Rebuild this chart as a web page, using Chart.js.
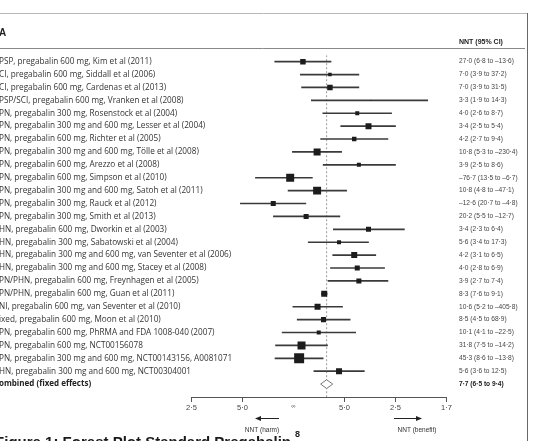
<!DOCTYPE html>
<html>
<head>
<meta charset="utf-8">
<script src="https://cdn.jsdelivr.net/npm/chart.js@4.4.1/dist/chart.umd.min.js"></script>
<style>
  html, body { margin: 0; padding: 0; background: #fff; }
  canvas { display: block; }
</style>
</head>
<body>
<canvas id="forestChart" width="534" height="441"></canvas>
<script>
// study labels (left edge of the original figure is cropped)
const studyLabels = [
    'PSP, pregabalin 600 mg, Kim et al (2011)',
    'CI, pregabalin 600 mg, Siddall et al (2006)',
    'CI, pregabalin 600 mg, Cardenas et al (2013)',
    'PSP/SCI, pregabalin 600 mg, Vranken et al (2008)',
    'PN, pregabalin 300 mg, Rosenstock et al (2004)',
    'PN, pregabalin 300 mg and 600 mg, Lesser et al (2004)',
    'PN, pregabalin 600 mg, Richter et al (2005)',
    'PN, pregabalin 300 mg and 600 mg, Tölle et al (2008)',
    'PN, pregabalin 600 mg, Arezzo et al (2008)',
    'PN, pregabalin 600 mg, Simpson et al (2010)',
    'PN, pregabalin 300 mg and 600 mg, Satoh et al (2011)',
    'PN, pregabalin 300 mg, Rauck et al (2012)',
    'PN, pregabalin 300 mg, Smith et al (2013)',
    'HN, pregabalin 600 mg, Dworkin et al (2003)',
    'HN, pregabalin 300 mg, Sabatowski et al (2004)',
    'HN, pregabalin 300 mg and 600 mg, van Seventer et al (2006)',
    'HN, pregabalin 300 mg and 600 mg, Stacey et al (2008)',
    'PN/PHN, pregabalin 600 mg, Freynhagen et al (2005)',
    'PN/PHN, pregabalin 600 mg, Guan et al (2011)',
    'NI, pregabalin 600 mg, van Seventer et al (2010)',
    'ixed, pregabalin 600 mg, Moon et al (2010)',
    'PN, pregabalin 600 mg, PhRMA and FDA 1008-040 (2007)',
    'PN, pregabalin 600 mg, NCT00156078',
    'PN, pregabalin 300 mg and 600 mg, NCT00143156, A0081071',
    'HN, pregabalin 300 mg and 600 mg, NCT00304001'
];

// number needed to treat, negative = harm
const nnt    = [27.0, 7.0, 7.0, 3.3, 4.0, 3.4, 4.2, 10.8, 3.9, -76.7, 10.8, -12.6, 20.2,
                3.4, 5.6, 4.2, 4.0, 3.9, 8.3, 10.6, 8.5, 10.1, 31.8, 45.3, 5.6];
const ciLow  = [6.8, 3.9, 3.9, 1.9, 2.6, 2.5, 2.7, 5.3, 2.5, 13.5, 4.8, 20.7, 5.5,
                2.3, 3.4, 3.1, 2.8, 2.7, 7.6, 5.2, 4.5, 4.1, 7.5, 8.6, 3.6];
const ciHigh = [-13.6, 37.2, 31.5, 14.3, 8.7, 5.4, 9.4, -230.4, 8.6, -6.7, -47.1, -4.8, -12.7,
                6.4, 17.3, 6.5, 6.9, 7.4, 9.1, -405.8, 68.9, -22.5, -14.2, -13.8, 12.5];
// study weight (%)
const weights = [3.9, 1.6, 3.9, 0.1, 2.1, 4.7, 2.6, 6.4, 2.1, 8.3, 8.3, 3.3, 3.3,
                 3.3, 2.1, 4.7, 3.3, 3.3, 4.7, 4.7, 3.3, 2.1, 8.3, 13.0, 4.7];

const combinedLabel = 'ombined (fixed effects)';
const combinedNnt = 7.7;
const combinedLow = 6.5;
const combinedHigh = 9.4;

// x axis is absolute risk reduction, labelled as NNT
const tickValues = [-0.4, -0.2, 0, 0.2, 0.4, 0.6];
const tickLabels = ['2·5', '5·0', '∞', '5·0', '2·5', '1·7'];

const FONT = '"Liberation Sans", Arial, sans-serif';
const LABEL_FONT = '"Open Sans", "Liberation Sans", sans-serif';
const toArr = n => 1 / n;
const fmt = n => (n < 0 ? '–' : '') + Math.abs(n).toFixed(1).replace('.', '·');
const ciText = (p, lo, hi) => fmt(p) + ' (' + fmt(lo) + ' to ' + fmt(hi) + ')';

const combinedRow = studyLabels.length;

const diamond = [
    { x: toArr(combinedHigh), y: combinedRow },
    { x: toArr(combinedNnt), y: combinedRow - 0.34 },
    { x: toArr(combinedLow), y: combinedRow },
    { x: toArr(combinedNnt), y: combinedRow + 0.34 },
    { x: toArr(combinedHigh), y: combinedRow }
];

function arrow(ctx, x1, x2, y) {
    const dir = Math.sign(x2 - x1);
    ctx.beginPath();
    ctx.moveTo(x1, y);
    ctx.lineTo(x2 - dir * 5, y);
    ctx.stroke();
    ctx.beginPath();
    ctx.moveTo(x2, y);
    ctx.lineTo(x2 - dir * 6, y - 2.5);
    ctx.lineTo(x2 - dir * 6, y + 2.5);
    ctx.closePath();
    ctx.fill();
}

const forestText = {
    id: 'forestText',
    afterDraw(chart) {
        const ctx = chart.ctx;
        const ys = chart.scales.y;
        ctx.save();

        // frame of the figure panel
        ctx.lineWidth = 1;
        ctx.strokeStyle = '#d7a7bc';
        ctx.beginPath(); ctx.moveTo(0, 13.5); ctx.lineTo(527, 13.5); ctx.stroke();
        ctx.strokeStyle = '#9a4a76';
        ctx.beginPath(); ctx.moveTo(527.5, 13); ctx.lineTo(527.5, 441); ctx.stroke();

        // header
        ctx.fillStyle = '#222';
        ctx.textBaseline = 'middle';
        ctx.font = 'bold 10px ' + FONT;
        ctx.fillText('A', -1, 33);
        ctx.font = 'bold 7px ' + FONT;
        ctx.fillText('NNT (95% CI)', 459, 42);
        ctx.strokeStyle = '#888';
        ctx.beginPath(); ctx.moveTo(0, 48.5); ctx.lineTo(525, 48.5); ctx.stroke();

        // rows
        studyLabels.forEach((lab, i) => {
            const y = ys.getPixelForValue(i);
            ctx.fillStyle = '#333';
            ctx.font = '8.2px ' + LABEL_FONT;
            ctx.fillText(lab, -1, y);
            ctx.fillStyle = '#444';
            ctx.font = '6.6px ' + FONT;
            ctx.fillText(ciText(nnt[i], ciLow[i], ciHigh[i]), 459, y);
        });
        const yc = ys.getPixelForValue(combinedRow);
        ctx.fillStyle = '#222';
        ctx.font = 'bold 8px ' + LABEL_FONT;
        ctx.fillText(combinedLabel, -1, yc);
        ctx.font = 'bold 6.6px ' + FONT;
        ctx.fillText(ciText(combinedNnt, combinedLow, combinedHigh), 459, yc);

        // harm / benefit arrows
        ctx.strokeStyle = '#222';
        ctx.fillStyle = '#222';
        ctx.lineWidth = 1;
        arrow(ctx, 279, 255, 418.5);
        arrow(ctx, 394, 422, 418.5);
        ctx.fillStyle = '#333';
        ctx.font = '6.5px ' + FONT;
        ctx.textAlign = 'center';
        ctx.fillText('NNT (harm)', 262, 430);
        ctx.fillText('NNT (benefit)', 417, 430);

        // cropped figure caption
        ctx.fillStyle = '#1a1a1a';
        ctx.textAlign = 'right';
        ctx.textBaseline = 'alphabetic';
        ctx.font = 'bold 15px ' + FONT;
        ctx.fillText('Figure 1: Forest Plot Standard Pregabalin', 291, 447);
        ctx.textAlign = 'left';
        ctx.font = 'bold 9px ' + FONT;
        ctx.fillText('8', 295, 437);
        ctx.restore();
    }
};

new Chart(document.getElementById('forestChart'), {
    type: 'scatter',
    data: {
        datasets: [
            {
                type: 'line',
                data: [{ x: toArr(combinedNnt), y: -0.5 }, { x: toArr(combinedNnt), y: 26 }],
                borderColor: '#9a9a9a',
                borderWidth: 1,
                borderDash: [2, 2],
                pointRadius: 0,
                order: 5
            },
            {
                type: 'bar',
                indexAxis: 'y',
                data: studyLabels.map((_, i) => ({ y: i, x: [toArr(ciLow[i]), toArr(ciHigh[i])] })),
                backgroundColor: '#3a3a3a',
                barThickness: 1,
                order: 4
            },
            {
                type: 'scatter',
                data: studyLabels.map((_, i) => ({ x: toArr(nnt[i]), y: i })),
                pointStyle: 'rect',
                pointRadius: weights.map(w => Math.sqrt(w) * 2.77 / Math.SQRT2),
                backgroundColor: '#1c1c1c',
                borderWidth: 0,
                order: 1
            },
            {
                type: 'line',
                data: diamond,
                fill: 'shape',
                backgroundColor: '#fff',
                borderColor: '#777',
                borderWidth: 1,
                pointRadius: 0,
                tension: 0,
                order: 0
            }
        ]
    },
    options: {
        responsive: false,
        animation: false,
        layout: { padding: { left: 191.5, right: 87.5, top: 55.2, bottom: 28 } },
        plugins: { legend: { display: false }, tooltip: { enabled: false } },
        scales: {
            x: {
                type: 'linear',
                offset: false,
                min: -0.4,
                max: 0.6,
                afterBuildTicks: s => { s.ticks = tickValues.map(v => ({ value: v })); },
                grid: {
                    drawOnChartArea: false,
                    offset: false,
                    tickLength: 5,
                    color: c => (c.tick && c.tick.value === 0) ? 'rgba(0,0,0,0)' : '#555'
                },
                border: { color: '#555', width: 1 },
                ticks: {
                    padding: 1,
                    color: '#444',
                    maxRotation: 0,
                    autoSkip: false,
                    font: c => ({ family: FONT, size: (c.tick && c.tick.value === 0) ? 6 : 7.5 }),
                    callback: v => tickLabels[tickValues.indexOf(v)]
                }
            },
            y: { type: 'linear', display: false, offset: false, reverse: true, min: -0.5, max: 26 }
        }
    },
    plugins: [forestText]
});
</script>
</body>
</html>
